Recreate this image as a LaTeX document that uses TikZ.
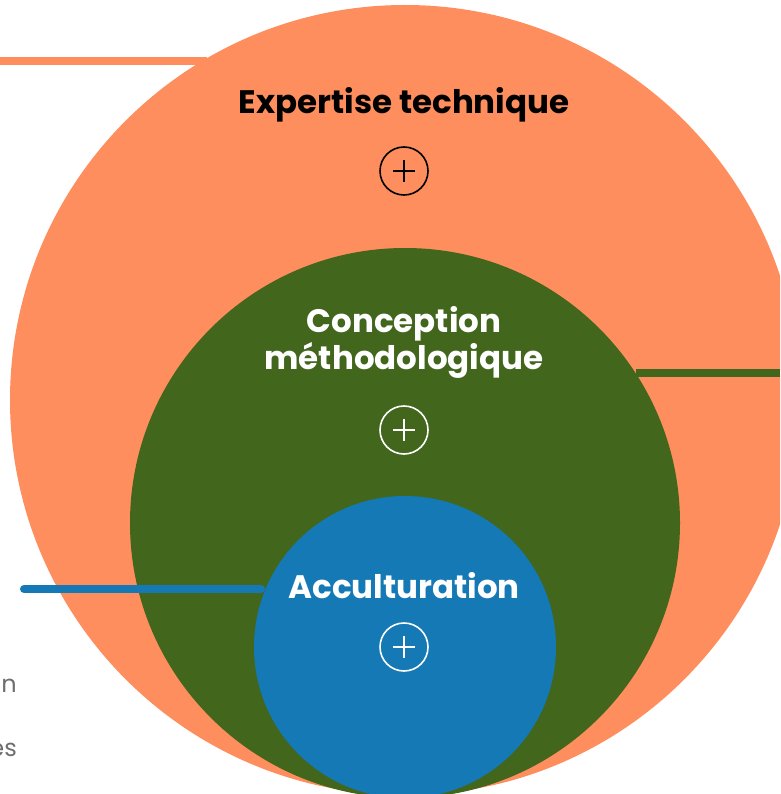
\documentclass[tikz,border=0pt]{standalone}
\usepackage{fontspec}
\setmainfont{Poppins}
\usepackage{xcolor}
\definecolor{orangeC}{RGB}{255,142,94}
\definecolor{greenC}{RGB}{65,102,28}
\definecolor{blueC}{RGB}{20,121,181}
\definecolor{grayT}{RGB}{110,110,110}
\tikzstyle{bigcircle} = [circle, inner sep=0pt, draw=none]
\tikzstyle{title} = [font=\fontsize{32.5}{37}\selectfont\bfseries, align=center, inner sep=0pt]
\tikzstyle{plus} = [circle, minimum size=48pt, inner sep=0pt, line width=1.6pt]
\tikzstyle{link} = [line width=8pt]
\tikzstyle{side} = [font=\fontsize{24}{28}\selectfont, text=grayT, anchor=east, inner sep=0pt]

\begin{document}
\begin{tikzpicture}[x=1pt, y=-1pt]
    \clip (0,0) rectangle (780,794);

    \coordinate (ol) at (0,61);
    \coordinate (gr) at (780,373);
    \coordinate (bl) at (24,589);

    \node (expert) [bigcircle, fill=orangeC, minimum size=790pt] at (405,400) {};
    \draw [link, orangeC] (ol) -- (expert.120.6 |- ol);
    \node (concept) [bigcircle, fill=greenC, minimum size=550pt] at (405,523) {};
    \draw [link, greenC] (gr) -- (concept.33 |- gr);
    \draw [link, blueC, line cap=round] (bl) -- (261,589);
    \node (accult) [bigcircle, fill=blueC, minimum size=302pt] at (405,647) {};

    \node (t1) [title, text=black] at (404,105) {Expertise technique};
    \node (p1) [plus, draw=black] at (404,171) {};
    \node (t2) [title, text=white] at (404,342) {Conception\\méthodologique};
    \node (p2) [plus, draw=white] at (404,430) {};
    \node (t3) [title, text=white] at (404,586) {Acculturation};
    \node (p3) [plus, draw=white] at (404,647) {};

    % the plus signs
    \draw [line width=1.6pt] (p1.center) ++(-11,0) -- ++(22,0) (p1.center) ++(0,-11) -- ++(0,22);
    \draw [line width=1.6pt, white] (p2.center) ++(-11,0) -- ++(22,0) (p2.center) ++(0,-11) -- ++(0,22);
    \draw [line width=1.6pt, white] (p3.center) ++(-11,0) -- ++(22,0) (p3.center) ++(0,-11) -- ++(0,22);

    \node (s1) [side] at (17,686) {n};
    \node (s2) [side] at (17,750) {es};
\end{tikzpicture}
\end{document}
